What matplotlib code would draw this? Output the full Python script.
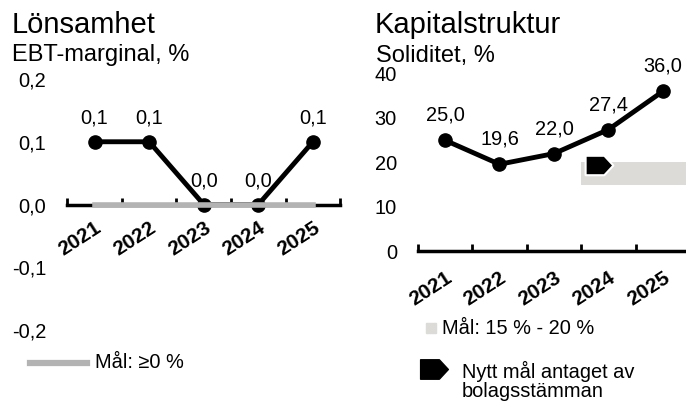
import matplotlib
matplotlib.use("Agg")
import matplotlib.pyplot as plt
from matplotlib.path import Path
from matplotlib.lines import Line2D
from matplotlib.patches import Rectangle
from matplotlib.transforms import offset_copy

plt.rcParams['font.family'] = ['Liberation Sans', 'DejaVu Sans']

# Data
years = ['2021', '2022', '2023', '2024', '2025']
ebt_margin = [0.1, 0.1, 0.0, 0.0, 0.1]
ebt_target = 0.0
ebt_ticks = [-0.2, -0.1, 0.0, 0.1, 0.2]

solidity = [25.0, 19.6, 22.0, 27.4, 36.0]
solidity_target = (15, 20)
new_target_from = 2.5  # boundary between 2023 and 2024
solidity_ticks = [0, 10, 20, 30, 40]

LABEL_FS = 14.4
GOAL_GRAY = '#b3b3b3'
BAND_GRAY = '#dcdbd8'


def comma(v, dec=1):
    return f"{v:.{dec}f}".replace('.', ',')


# arrow shaped marker for the new target
arrow = Path([(-1, -0.7), (0.35, -0.7), (1, 0), (0.35, 0.7), (-1, 0.7), (-1, -0.7)],
             [Path.MOVETO, Path.LINETO, Path.LINETO, Path.LINETO, Path.LINETO, Path.CLOSEPOLY])


def style_axis(ax, n, pad):
    for side in ['left', 'right', 'top']:
        ax.spines[side].set_visible(False)
    ax.spines['bottom'].set_position(('data', 0))
    ax.spines['bottom'].set_linewidth(2.5)
    ax.set_xlim(-0.5, n - 0.5)
    ax.set_xticks(range(n))
    ax.set_xticklabels(years, fontsize=15, fontweight='bold')
    ax.set_xticks([i - 0.5 for i in range(n + 1)], minor=True)
    ax.tick_params(axis='x', which='major', length=0, pad=pad)
    ax.tick_params(axis='x', which='minor', direction='in', length=5, width=2)
    ax.tick_params(axis='y', length=0, pad=15, labelsize=LABEL_FS)
    for lab in ax.get_xticklabels():
        lab.set_rotation(33)
        lab.set_ha('right')
        lab.set_va('top')
        lab.set_rotation_mode('anchor')
    ax.patch.set_alpha(0)


fig = plt.figure(figsize=(6.86, 4.03), dpi=100)

# Lönsamhet
ax1 = fig.add_axes([0.098, 0.181, 0.398, 0.623])
x = range(len(years))
ax1.plot(x, ebt_margin, color='black', lw=3.5, marker='o', ms=9.5, zorder=3, clip_on=False)
ax1.plot([0, len(years) - 1], [ebt_target, ebt_target], color=GOAL_GRAY, lw=4,
         solid_capstyle='projecting', zorder=5)
for i, v in enumerate(ebt_margin):
    ax1.annotate(comma(v), (i, v), xytext=(0, 17), textcoords='offset points',
                 ha='center', va='center', fontsize=LABEL_FS)
ax1.set_ylim(min(ebt_ticks), max(ebt_ticks))
ax1.set_yticks(ebt_ticks)
ax1.set_yticklabels([comma(t) for t in ebt_ticks])
style_axis(ax1, len(years), pad=10)

# Kapitalstruktur
ax2 = fig.add_axes([0.609, 0.376, 0.397, 0.4416])
ax2.add_patch(Rectangle((new_target_from, solidity_target[0]), 10,
                        solidity_target[1] - solidity_target[0],
                        facecolor=BAND_GRAY, edgecolor='none', zorder=1))
ax2.plot(x, solidity, color='black', lw=3.5, marker='o', ms=9.5, zorder=3, clip_on=False)
ax2.plot([new_target_from], [solidity_target[1]], linestyle='none', marker=arrow, ms=20,
         color='black', mec='white', mew=1.5, zorder=4,
         transform=offset_copy(ax2.transData, fig=fig, x=12.5, y=-2, units='points'))
for i, v in enumerate(solidity):
    ax2.annotate(comma(v), (i, v), xytext=(0, 18), textcoords='offset points',
                 ha='center', va='center', fontsize=LABEL_FS)
ax2.set_ylim(min(solidity_ticks), max(solidity_ticks))
ax2.set_yticks(solidity_ticks)
ax2.set_yticklabels([str(t) for t in solidity_ticks])
style_axis(ax2, len(years), pad=12)

# Titles
fig.text(12 / 686, 1 - 33 / 403, 'Lönsamhet', fontsize=21, va='baseline')
fig.text(12 / 686, 1 - 61 / 403, 'EBT-marginal, %', fontsize=17, va='baseline')
fig.text(375 / 686, 1 - 33 / 403, 'Kapitalstruktur', fontsize=21, va='baseline')
fig.text(376 / 686, 1 - 62 / 403, 'Soliditet, %', fontsize=17, va='baseline')

# Legends
fig.add_artist(Line2D([30 / 686, 87 / 686], [1 - 363 / 403] * 2, color=GOAL_GRAY, lw=4.5,
                      transform=fig.transFigure))
fig.text(95 / 686, 1 - 363 / 403, 'Mål: ≥0 %', fontsize=LABEL_FS, va='center')

fig.add_artist(Rectangle((426 / 686, 1 - 333 / 403), 10 / 686, 10 / 403, color=BAND_GRAY,
                         transform=fig.transFigure))
fig.text(442 / 686, 1 - 328 / 403, 'Mål: 15 % - 20 %', fontsize=LABEL_FS, va='center')

fig.add_artist(Line2D([434 / 686], [1 - 369 / 403], linestyle='none', marker=arrow, ms=20,
                      color='black', transform=fig.transFigure))
fig.text(462 / 686, 1 - 381 / 403, 'Nytt mål antaget av\nbolagsstämman',
         fontsize=LABEL_FS, va='center', linespacing=1.0)

fig.savefig('out.png', dpi=100)
